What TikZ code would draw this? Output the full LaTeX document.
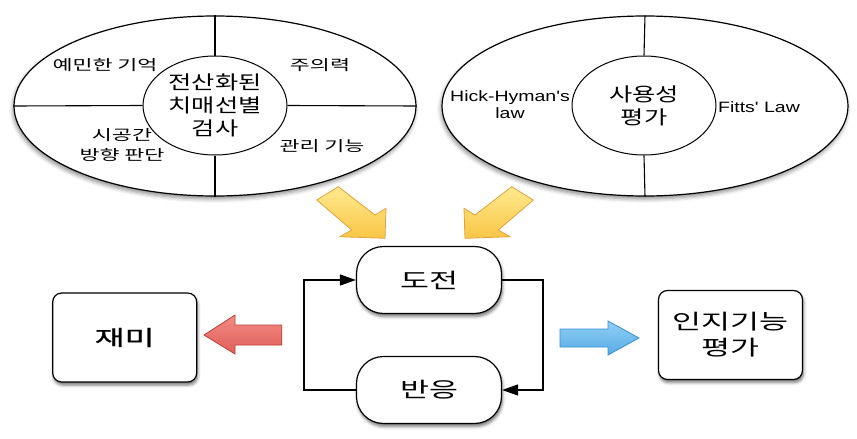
\documentclass[tikz,border=0pt]{standalone}
\usepackage{fontspec}
\setmainfont{Liberation Sans}[FakeStretch=1.3, Ligatures=TeXOff]
\newfontfamily\kr{Noto Sans CJK KR}[FakeStretch=1.5]
\newfontfamily\krc{Noto Sans CJK KR}[FakeStretch=1.33]
\newfontfamily\krb{Noto Sans CJK KR}[FakeStretch=1.55, FakeBold=1]
\usetikzlibrary{shapes.geometric,shadows,shadows.blur,arrows.meta}
\definecolor{ylwtop}{HTML}{FFEA8F}
\definecolor{ylwbot}{HTML}{F8C646}
\definecolor{ylwedge}{HTML}{E3A33A}
\definecolor{redtop}{HTML}{F28B85}
\definecolor{redbot}{HTML}{E05E58}
\definecolor{rededge}{HTML}{BE3E38}
\definecolor{blutop}{HTML}{92D1F5}
\definecolor{blubot}{HTML}{55A9E6}
\definecolor{bluedge}{HTML}{3C8ED2}
\begin{document}
\begin{tikzpicture}[x=1pt,y=-1pt,
  outer/.style={ellipse, draw, line width=1.2pt, fill=white, inner sep=0pt,
    minimum width=402pt, minimum height=180pt,
    blur shadow={shadow xshift=-1pt, shadow yshift=-3pt, shadow blur radius=4pt, shadow opacity=45}},
  inner/.style={ellipse, draw, line width=1pt, fill=white, inner sep=0pt,
    minimum width=144pt, minimum height=99pt, align=center,
    font=\krc\fontsize{19}{23}\selectfont},
  divider/.style={line width=1.1pt},
  smalltxt/.style={align=center, font=\kr\fontsize{14.5}{20}\selectfont},
  latintxt/.style={align=center, font=\fontsize{15}{17}\selectfont},
  pill/.style={draw, line width=1.2pt, fill=white, rounded corners=27pt,
    minimum width=145pt, minimum height=67pt, font=\kr\fontsize{21}{25}\selectfont,
    blur shadow={shadow xshift=1pt, shadow yshift=-3pt, shadow blur radius=3pt, shadow opacity=55}},
  card/.style={draw, line width=1.2pt, fill=white, rounded corners=9pt,
    minimum width=144pt, minimum height=89pt, align=center,
    font=\kr\fontsize{21}{26}\selectfont,
    blur shadow={shadow xshift=1pt, shadow yshift=-3pt, shadow blur radius=3pt, shadow opacity=55}},
  loop/.style={line width=1.4pt, -{Triangle[length=16pt,width=11pt]}},
  ylwarrow/.style={draw=ylwedge, line width=0.8pt, top color=ylwtop, bottom color=ylwbot},
  redarrow/.style={draw=rededge, line width=0.8pt, top color=redtop, bottom color=redbot},
  bluarrow/.style={draw=bluedge, line width=0.8pt, top color=blutop, bottom color=blubot}
]
\useasboundingbox (0,0) rectangle (857,439);

% left ellipse
\node[outer] (L) at (215,106) {};
\node[inner] (Lc) at (215,105.5) {전산화된\\치매선별\\검사};
\draw[divider] (L.north) -- (Lc.north);
\draw[divider] (Lc.south) -- (L.south);
\draw[divider] (L.west) -- (Lc.west);
\draw[divider] (Lc.east) -- (L.east);
\node[smalltxt] (m1) at (105,65) {예민한 기억};
\node[smalltxt] (m2) at (320,65) {주의력};
\node[smalltxt] (m3) at (122,145) {시공간\\방향 판단};
\node[smalltxt] (m4) at (322,146) {관리 기능};

% right ellipse
\node[outer, minimum width=406pt] (R) at (645,106) {};
\node[inner] (Rc) at (644,105.5) {사용성\\평가};
\draw[divider] (R.north) -- (Rc.north);
\draw[divider] (Rc.south) -- (R.south);
\node[latintxt] (h1) at (510,105) {Hick-Hyman's\\law};
\node[latintxt] (h2) at (759,107) {Fitts' Law};

% yellow arrows
\draw[ylwarrow] (316.7,200) -- (338.3,186.7) -- (375,215) -- (386,208.3) -- (385,238.3)
  -- (340,236.7) -- (351.7,230) -- cycle;
\draw[ylwarrow] (533.3,200) -- (511.7,186.7) -- (475,215) -- (464,208.3) -- (465,238.3)
  -- (510,236.7) -- (498.3,230) -- cycle;

% loop boxes
\node[pill] (dj) at (429,280) {도전};
\node[pill] (bu) at (429,390) {반응};
\draw[loop] (dj.east) -- ++(41,0) |- (bu.east);
\draw[loop] (bu.west) -- ++(-52,0) |- (dj.west);

% side boxes
\node[card, font=\krb\fontsize{21}{26}\selectfont] (fun) at (124.7,337.5) {재미};
\node[card] (cog) at (730.5,335) {인지기능\\평가};

% red and blue arrows
\draw[redarrow] (281.7,325) -- (235,325) -- (235,315) -- (204,335) -- (235,354)
  -- (235,345) -- (281.7,345) -- cycle;
\draw[bluarrow] (560,329) -- (608,329) -- (608,321) -- (639,338) -- (608,355)
  -- (608,347) -- (560,347) -- cycle;
\end{tikzpicture}
\end{document}
